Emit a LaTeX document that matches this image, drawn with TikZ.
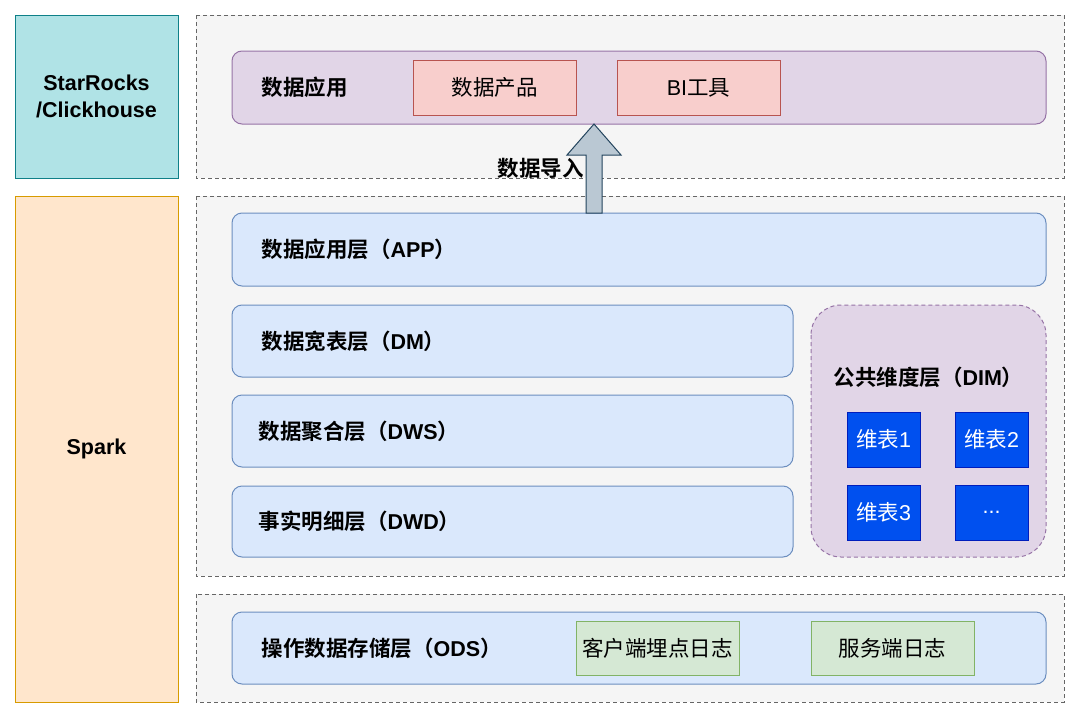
\documentclass[tikz,border=0pt]{standalone}
\usepackage{fontspec}
\setmainfont{Noto Sans CJK SC}[BoldFont={Noto Sans CJK SC Bold}]
\newfontfamily\lat{Liberation Sans}
\usetikzlibrary{shapes.arrows}
\definecolor{tealF}{HTML}{B0E3E6}\definecolor{tealD}{HTML}{0E8088}
\definecolor{orgF}{HTML}{FFE6CC}\definecolor{orgD}{HTML}{D79B00}
\definecolor{grayF}{HTML}{F5F5F5}\definecolor{grayD}{HTML}{666666}
\definecolor{purF}{HTML}{E1D5E7}\definecolor{purD}{HTML}{9673A6}
\definecolor{redF}{HTML}{F8CECC}\definecolor{redD}{HTML}{B85450}
\definecolor{bluF}{HTML}{DAE8FC}\definecolor{bluD}{HTML}{6C8EBF}
\definecolor{grnF}{HTML}{D5E8D4}\definecolor{grnD}{HTML}{82B366}
\definecolor{dimF}{HTML}{0050EF}\definecolor{dimD}{HTML}{001DBC}
\definecolor{arrF}{HTML}{BAC8D3}\definecolor{arrD}{HTML}{23445D}
\begin{document}
\begin{tikzpicture}[x=1pt,y=-1pt,
  box/.style={draw, line width=1pt, inner sep=0pt},
  zone/.style={box, draw=grayD, fill=grayF, dash pattern=on 4pt off 3pt},
  layer/.style={box, rounded corners=10pt, fill=bluF, draw=bluD},
  bt/.style={font=\bfseries\fontsize{21.5}{27}\selectfont},
  lbl/.style={bt, anchor=west},
  it/.style={font=\fontsize{21.5}{26}\selectfont},
  dimt/.style={box, fill=dimF, draw=dimD, text=white, it, minimum width=73pt, minimum height=55pt}
]
\path[use as bounding box] (0,0) rectangle (1080,718);
\fill[white] (0,0) rectangle (1080,718);
% engines
\draw[box, fill=tealF, draw=tealD] (15,15) rectangle (178,178);
\node[bt, align=center] (sr) at (96.5,96.5) {\lat StarRocks\\\lat /Clickhouse};
\draw[box, fill=orgF, draw=orgD] (15,196) rectangle (178,702);
\node[bt] (spark) at (96.5,449) {\lat Spark};
% zones
\draw[zone] (196,15) rectangle (1064,178);
\draw[zone] (196,196) rectangle (1064,576);
\draw[zone] (196,594) rectangle (1064,702);
% app row
\draw[box, rounded corners=10pt, fill=purF, draw=purD] (232,51) rectangle (1046,124);
\node[lbl] (app) at (258,87.5) {数据应用};
\draw[box, fill=redF, draw=redD] (413,60) rectangle (576,115);
\node[it] (prod) at (494.5,87.5) {数据产品};
\draw[box, fill=redF, draw=redD] (617,60) rectangle (780,115);
\node[it] (bi) at (698.5,87.5) {{\lat BI}工具};
% layers
\draw[layer] (232,213) rectangle (1046,286);
\node[lbl] (appl) at (258,249.5) {数据应用层（{\lat APP}）};
\draw[layer] (232,305) rectangle (793,377);
\node[lbl] (dm) at (258,341) {数据宽表层（{\lat DM}）};
\draw[layer] (232,395) rectangle (793,467);
\node[lbl] (dws) at (255,431) {数据聚合层（{\lat DWS}）};
\draw[layer] (232,486) rectangle (793,557);
\node[lbl] (dwd) at (255,521.5) {事实明细层（{\lat DWD}）};
% DIM
\draw[box, rounded corners=30pt, fill=purF, draw=purD, dash pattern=on 4pt off 3pt] (811,305) rectangle (1046,557);
\node[bt] (dim) at (928.5,377) {公共维度层（{\lat DIM}）};
\node[dimt] (d1) at (883.5,439.5) {维表{\lat 1}};
\node[dimt] (d2) at (991.5,439.5) {维表{\lat 2}};
\node[dimt] (d3) at (883.5,512.5) {维表{\lat 3}};
\node[dimt] (d4) at (991.5,512.5) {\lat ...};
% ODS
\draw[layer] (232,612) rectangle (1046,684);
\node[lbl] (ods) at (258,648) {操作数据存储层（{\lat ODS}）};
\draw[box, fill=grnF, draw=grnD] (576,621) rectangle (739,675);
\node[it] (cli) at (657.5,648) {客户端埋点日志};
\draw[box, fill=grnF, draw=grnD] (811,621) rectangle (974,675);
\node[it] (srv) at (892.5,648) {服务端日志};
% arrow
\draw[fill=arrF, draw=arrD, line width=1pt, line join=miter]
  (586,213) -- (586,155) -- (567,155) -- (594,124) -- (621,155) -- (602,155) -- (602,213) -- cycle;
\node[bt, anchor=east, inner sep=1pt] (imp) at (585,168) {数据导入};
\end{tikzpicture}
\end{document}
